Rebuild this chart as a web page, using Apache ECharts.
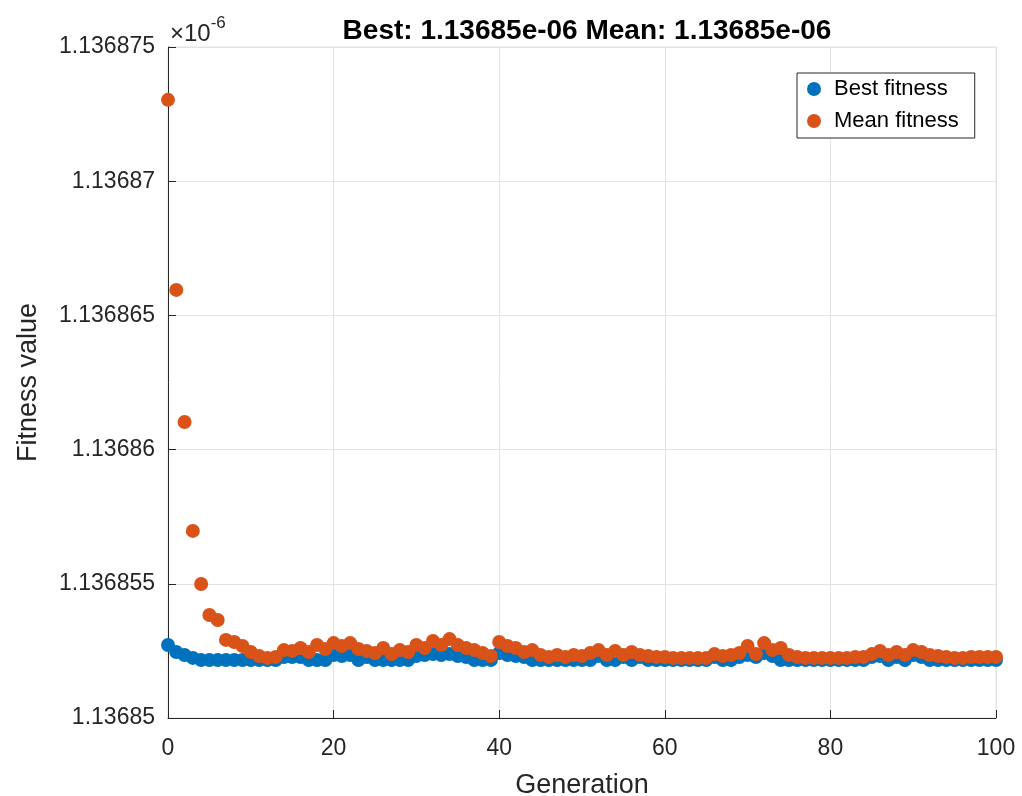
<!DOCTYPE html>
<html>
<head>
<meta charset="utf-8">
<script src="https://cdn.jsdelivr.net/npm/echarts@6/dist/echarts.min.js"></script>
<style>html,body{margin:0;padding:0;background:#fff;}#chart{width:1022px;height:796px;}</style>
</head>
<body>
<div id="chart"></div>
<script>
// Generations 0..100
var generations = [];
for (var g = 0; g <= 100; g++) generations.push(g);

// Values in units of 1e-6 (axis exponent x10^-6)
var bestFitness = [
1.13685272,1.13685246,1.13685235,1.13685224,1.13685216,1.13685216,1.13685216,1.13685216,1.13685216,1.13685216,
1.13685216,1.13685216,1.13685216,1.13685216,1.13685227,1.13685227,1.13685227,1.13685216,1.13685216,1.13685216,
1.13685235,1.13685231,1.13685235,1.13685216,1.13685227,1.13685216,1.13685216,1.13685216,1.13685216,1.13685216,
1.13685231,1.13685235,1.13685238,1.13685235,1.13685238,1.13685231,1.13685227,1.13685216,1.13685216,1.13685216,
1.13685242,1.13685235,1.13685231,1.13685227,1.13685216,1.13685216,1.13685216,1.13685216,1.13685216,1.13685216,
1.13685216,1.13685216,1.13685231,1.13685216,1.13685216,1.13685227,1.13685216,1.13685227,1.13685216,1.13685216,
1.13685216,1.13685216,1.13685216,1.13685216,1.13685216,1.13685216,1.13685227,1.13685216,1.13685216,1.13685227,
1.13685235,1.13685227,1.13685242,1.13685231,1.13685216,1.13685216,1.13685216,1.13685216,1.13685216,1.13685216,
1.13685216,1.13685216,1.13685216,1.13685216,1.13685216,1.13685227,1.13685231,1.13685216,1.13685227,1.13685216,
1.13685235,1.13685227,1.13685216,1.13685216,1.13685216,1.13685216,1.13685216,1.13685216,1.13685216,1.13685216,
1.13685216
];
var meanFitness = [
1.13687303,1.13686595,1.13686103,1.13685697,1.13685499,1.13685384,1.13685365,1.13685291,1.13685283,1.13685268,
1.13685246,1.13685231,1.13685224,1.13685227,1.13685253,1.13685250,1.13685261,1.13685246,1.13685272,1.13685257,
1.13685279,1.13685268,1.13685279,1.13685257,1.13685250,1.13685242,1.13685261,1.13685238,1.13685253,1.13685246,
1.13685272,1.13685261,1.13685287,1.13685272,1.13685294,1.13685272,1.13685261,1.13685253,1.13685242,1.13685231,
1.13685283,1.13685268,1.13685261,1.13685246,1.13685253,1.13685235,1.13685227,1.13685235,1.13685227,1.13685235,
1.13685231,1.13685242,1.13685253,1.13685235,1.13685250,1.13685235,1.13685246,1.13685235,1.13685231,1.13685227,
1.13685227,1.13685224,1.13685224,1.13685224,1.13685224,1.13685224,1.13685238,1.13685231,1.13685235,1.13685242,
1.13685268,1.13685238,1.13685279,1.13685253,1.13685261,1.13685235,1.13685227,1.13685224,1.13685224,1.13685224,
1.13685224,1.13685224,1.13685224,1.13685227,1.13685227,1.13685238,1.13685250,1.13685235,1.13685246,1.13685235,
1.13685253,1.13685246,1.13685235,1.13685231,1.13685227,1.13685224,1.13685224,1.13685227,1.13685227,1.13685227,
1.13685227
];
var titleText = 'Best: 1.13685e-06 Mean: 1.13685e-06';
var seriesNames = ['Best fitness', 'Mean fitness'];

function pairs(ys) { return ys.map(function (v, i) { return [generations[i], v]; }); }

var FONT = 'Liberation Sans, Arial, Helvetica, sans-serif';
var TXT = '#262626';
var chart = echarts.init(document.getElementById('chart'), null, {renderer: 'canvas'});
chart.setOption({
  animation: false,
  backgroundColor: '#ffffff',
  textStyle: {fontFamily: FONT},
  title: {
    text: titleText, left: 582, top: 12, textAlign: 'center',
    textStyle: {fontFamily: FONT, fontSize: 28, fontWeight: 'bold', color: '#000'}
  },
  graphic: [{
    type: 'text', left: 170, top: 15,
    style: {
      text: '{a|×10}{b|-6}',
      rich: {
        a: {fontFamily: FONT, fontSize: 24, fill: TXT, verticalAlign: 'bottom'},
        b: {fontFamily: FONT, fontSize: 17, fill: TXT, verticalAlign: 'top', padding: [0, 0, 14, 0]}
      }
    }
  }],
  legend: {
    orient: 'vertical', left: 797, top: 73,
    data: seriesNames,
    icon: 'circle', itemWidth: 14, itemHeight: 14, itemGap: 10,
    padding: [5, 16, 6, 10],
    backgroundColor: '#fff', borderColor: TXT, borderWidth: 1, borderRadius: 0,
    textStyle: {fontFamily: FONT, fontSize: 22, color: '#000', padding: [0, 0, 0, 8]}
  },
  grid: {left: 168, right: 26, top: 47, bottom: 78, outerBoundsMode: 'none', containLabel: false,
         show: true, borderColor: '#e3e3e3', borderWidth: 1},
  xAxis: {
    type: 'value', min: 0, max: 100, interval: 20,
    name: 'Generation', nameLocation: 'middle', nameGap: 54,
    nameTextStyle: {fontFamily: FONT, fontSize: 27, color: TXT},
    axisLine: {show: true, onZero: false, lineStyle: {color: TXT, width: 1}},
    axisTick: {show: true, inside: true, length: 8, lineStyle: {color: TXT}},
    axisLabel: {fontFamily: FONT, fontSize: 23, color: TXT, margin: 19},
    splitLine: {show: true, lineStyle: {color: '#e3e3e3', width: 1}}
  },
  yAxis: {
    type: 'value', min: 1.13685, max: 1.136875, interval: 0.000005,
    name: 'Fitness value', nameLocation: 'middle', nameGap: 126,
    nameTextStyle: {fontFamily: FONT, fontSize: 27, color: TXT},
    axisLine: {show: true, onZero: false, lineStyle: {color: TXT, width: 1}},
    axisTick: {show: true, inside: true, length: 8, lineStyle: {color: TXT}},
    axisLabel: {
      fontFamily: FONT, fontSize: 23, color: TXT, margin: 13,
      formatter: function (v) { return String(parseFloat(v.toFixed(6))); }
    },
    splitLine: {show: true, lineStyle: {color: '#e3e3e3', width: 1}}
  },
  series: [
    {name: seriesNames[0], type: 'scatter', data: pairs(bestFitness), symbol: 'circle', symbolSize: 14,
     itemStyle: {color: '#0072BD', opacity: 1}},
    {name: seriesNames[1], type: 'scatter', data: pairs(meanFitness), symbol: 'circle', symbolSize: 14,
     itemStyle: {color: '#D95319', opacity: 1}}
  ]
});
</script>
</body>
</html>
